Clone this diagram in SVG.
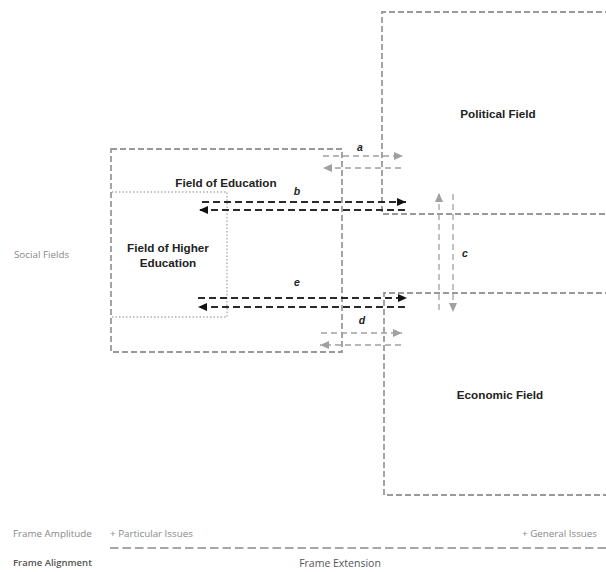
<svg xmlns="http://www.w3.org/2000/svg" width="606" height="572" viewBox="0 0 606 572">
<style>
.box{fill:none;stroke:#9a9a9a;stroke-width:1.8;stroke-dasharray:6 3}
.dot{fill:none;stroke:#b0b0b0;stroke-width:1.4;stroke-dasharray:1.5 2}
.ga{fill:none;stroke:#a0a0a0;stroke-width:1.3;stroke-dasharray:6 4}
.ka{fill:none;stroke:#2a2a2a;stroke-width:1.8;stroke-dasharray:7 4}
.title{font-family:"Liberation Sans",Arial,sans-serif;font-weight:bold;font-size:11.7px;fill:#222;text-anchor:middle}
.lab{font-family:"Liberation Sans",Arial,sans-serif;font-weight:bold;font-style:italic;font-size:10.5px;fill:#222;text-anchor:middle}
.side{font-family:"Open Sans","Liberation Sans",sans-serif;font-size:9.8px;fill:#888}
</style>
<defs>
<marker id="kh" markerUnits="userSpaceOnUse" markerWidth="10" markerHeight="8" refX="9" refY="4" orient="auto"><path d="M0,0 L9,4 L0,8 Z" fill="#111"/></marker>
<marker id="gh" markerUnits="userSpaceOnUse" markerWidth="10" markerHeight="8" refX="9" refY="4" orient="auto"><path d="M0,0 L9,4 L0,8 Z" fill="#a0a0a0"/></marker>
</defs>
<rect width="606" height="572" fill="#fff"/>
<g id="political">
<path class="box" d="M620 12 H382 V214 H620"/>
<text class="title" x="498" y="118">Political Field</text>
</g>
<g id="economic">
<path class="box" d="M620 293 H384 V495 H620"/>
<text class="title" x="500" y="399">Economic Field</text>
</g>
<g id="education">
<rect class="box" x="111" y="149" width="231" height="203"/>
<text class="title" x="226" y="187">Field of Education</text>
</g>
<g id="higher-education">
<path class="dot" d="M112 192 H227 V317 H112"/>
<text class="title" x="168" y="252">Field of Higher</text>
<text class="title" x="168" y="267">Education</text>
</g>
<g id="connectors">
<line class="ga" x1="323" y1="156" x2="403" y2="156" marker-end="url(#gh)"/>
<line class="ga" x1="401" y1="168" x2="323" y2="168" marker-end="url(#gh)"/>
<line class="ka" x1="202" y1="202" x2="406" y2="202" marker-end="url(#kh)"/>
<line class="ka" x1="405" y1="210" x2="199" y2="210" marker-end="url(#kh)"/>
<line class="ka" x1="198" y1="298" x2="407" y2="298" marker-end="url(#kh)"/>
<line class="ka" x1="405" y1="307" x2="198" y2="307" marker-end="url(#kh)"/>
<line class="ga" x1="321" y1="333" x2="402" y2="333" marker-end="url(#gh)"/>
<line class="ga" x1="401" y1="345" x2="320" y2="345" marker-end="url(#gh)"/>
<line class="ga" x1="439" y1="310" x2="439" y2="193" marker-end="url(#gh)"/>
<line class="ga" x1="453" y1="194" x2="453" y2="312" marker-end="url(#gh)"/>
<text class="lab" x="360" y="151">a</text>
<text class="lab" x="297" y="195">b</text>
<text class="lab" x="465" y="257">c</text>
<text class="lab" x="362" y="324">d</text>
<text class="lab" x="297" y="286">e</text>
</g>
<text class="side" x="14" y="258" font-size="10.8px">Social Fields</text>
<text class="side" x="13" y="537" font-size="10.5px">Frame Amplitude</text>
<text class="side" x="110" y="537" font-size="10.2px">+ Particular Issues</text>
<text class="side" x="597" y="537" text-anchor="end" font-size="10.2px">+ General Issues</text>
<line x1="110" y1="548" x2="606" y2="548" stroke="#8a8a8a" stroke-width="1.4" stroke-dasharray="8.5 4"/>
<text x="13" y="566" font-family="Open Sans, Liberation Sans, sans-serif" font-size="9.5px" font-weight="600" fill="#555">Frame Alignment</text>
<text x="340" y="567" font-family="Open Sans, Liberation Sans, sans-serif" font-size="10.5px" fill="#555" text-anchor="middle">Frame Extension</text>
</svg>
